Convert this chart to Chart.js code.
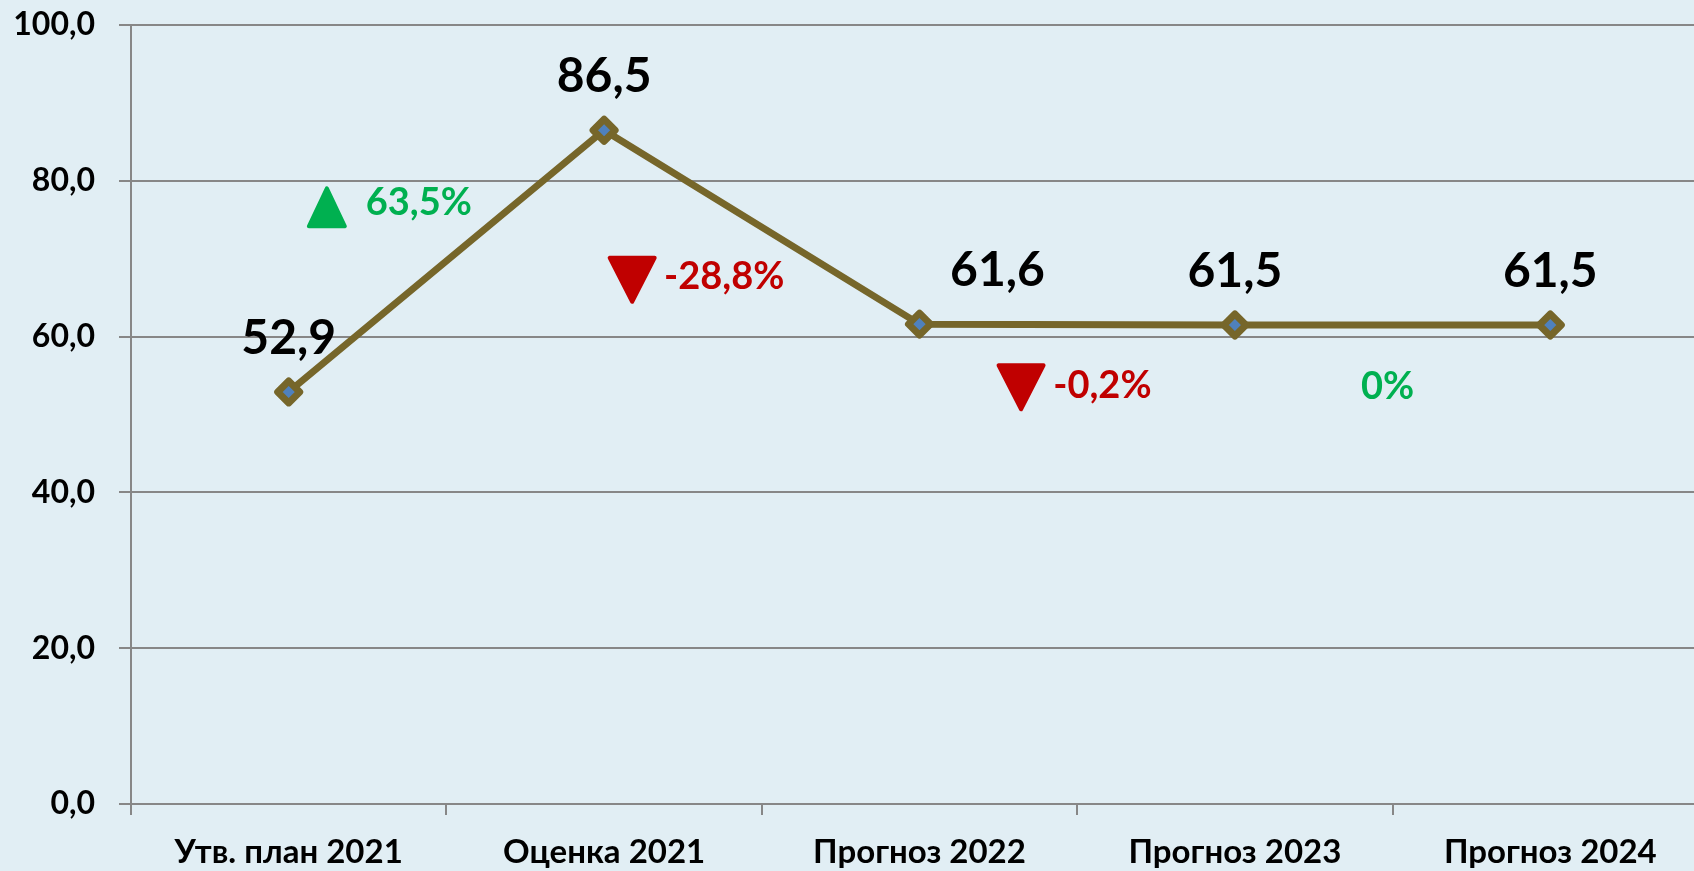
<!DOCTYPE html>
<html>
<head>
<meta charset="utf-8">
<script src="https://cdn.jsdelivr.net/npm/chart.js@4"></script>
<style>
  html, body { margin: 0; padding: 0; background: #E1EEF4; overflow: hidden; width: 1694px; height: 871px; }
  #c { position: absolute; left: 0; top: 0; }
</style>
</head>
<body>
<canvas id="c" width="1708" height="871"></canvas>
<script>
// ---- data ----
const categories = ['Утв. план 2021', 'Оценка 2021', 'Прогноз 2022', 'Прогноз 2023', 'Прогноз 2024'];
const values = [52.9, 86.5, 61.6, 61.5, 61.5];
const yTickValues = [0, 20, 40, 60, 80, 100];
const changeLabels = ['63,5%', '-28,8%', '-0,2%', '0%'];
const changeDirections = ['up', 'down', 'down', 'none'];

// ---- layout of annotations (category index, value units) ----
const changeTriangleAnchors = [[0.121, 76.6], [1.089, 67.3], [2.322, 53.5], null];
const changeTextAnchors = [[0.244, 75.6], [1.19, 66.1], [2.424, 52.1], [3.400, 52.0]];
const valueLabelDx = [0, 0, 78, 0, 0];

const FONT = 'Lato, "Noto Sans", sans-serif';
const OLIVE = '#76662A';
const GRID = '#878787';
const GREEN = '#00B050';
const RED = '#C00000';
const fmt = v => v.toFixed(1).replace('.', ',');

const bgPlugin = {
  id: 'bg',
  beforeDraw(chart) {
    const ctx = chart.ctx;
    ctx.save();
    ctx.fillStyle = '#E1EEF4';
    ctx.fillRect(0, 0, chart.width, chart.height);
    ctx.restore();
  },
  beforeDatasetsDraw(chart) { chart.ctx.lineJoin = 'round'; }
};

const labelPlugin = {
  id: 'labels',
  afterDatasetsDraw(chart) {
    const ctx = chart.ctx;
    const xs = chart.scales.x, ys = chart.scales.y;
    ctx.save();
    // value labels
    ctx.font = 'bold 48px ' + FONT;
    ctx.fillStyle = '#000';
    ctx.textAlign = 'center';
    ctx.textBaseline = 'alphabetic';
    values.forEach((v, i) => {
      const x = xs.getPixelForValue(i) + valueLabelDx[i];
      const y = ys.getPixelForValue(v) - 38;
      ctx.fillText(fmt(v), x, y);
    });
    // change annotations
    changeLabels.forEach((t, i) => {
      const dir = changeDirections[i];
      const color = (dir === 'down') ? RED : GREEN;
      const tri = changeTriangleAnchors[i];
      if (tri && dir !== 'none') {
        const cx = xs.getPixelForValue(tri[0]);
        const cy = ys.getPixelForValue(tri[1]);
        const w = dir === 'up' ? 36 : 45;
        const h = dir === 'up' ? 38 : 44;
        ctx.beginPath();
        if (dir === 'up') {
          ctx.moveTo(cx, cy - h / 2);
          ctx.lineTo(cx + w / 2, cy + h / 2);
          ctx.lineTo(cx - w / 2, cy + h / 2);
        } else {
          ctx.moveTo(cx - w / 2, cy - h / 2);
          ctx.lineTo(cx + w / 2, cy - h / 2);
          ctx.lineTo(cx, cy + h / 2);
        }
        ctx.closePath();
        ctx.fillStyle = color;
        ctx.strokeStyle = color;
        ctx.lineWidth = 4;
        ctx.lineJoin = 'round';
        ctx.fill();
        ctx.stroke();
      }
      const ta = changeTextAnchors[i];
      ctx.font = 'bold 38px ' + FONT;
      ctx.fillStyle = color;
      ctx.textAlign = 'left';
      ctx.textBaseline = 'alphabetic';
      ctx.fillText(t, xs.getPixelForValue(ta[0]), ys.getPixelForValue(ta[1]));
    });
    ctx.restore();
  }
};

new Chart(document.getElementById('c'), {
  type: 'line',
  data: {
    labels: categories,
    datasets: [{
      data: values,
      borderColor: OLIVE,
      borderWidth: 7,
      borderJoinStyle: 'round',
      pointStyle: 'rectRot',
      pointRadius: 11,
      pointBorderWidth: 7,
      pointBackgroundColor: '#4F81BD',
      pointBorderColor: OLIVE,
      tension: 0,
      clip: false
    }]
  },
  options: {
    responsive: false,
    animation: false,
    events: [],
    layout: { autoPadding: false, padding: { top: 25, left: 0, right: 0, bottom: 0 } },
    plugins: { legend: { display: false }, tooltip: { enabled: false } },
    scales: {
      x: {
        type: 'category',
        offset: true,
        grid: { offset: true, drawOnChartArea: false, drawTicks: true, tickLength: 11, color: GRID, lineWidth: 2 },
        border: { color: GRID, width: 2 },
        ticks: { color: '#000', font: { family: FONT, size: 33, weight: 'bold' }, padding: 18, maxRotation: 0 },
        afterFit(scale) { scale.height = 67; scale.paddingLeft = 0; scale.paddingRight = 0; }
      },
      y: {
        min: 0, max: 100,
        afterBuildTicks(scale) { scale.ticks = yTickValues.map(v => ({ value: v })); },
        ticks: { color: '#000', font: { family: FONT, size: 32, weight: 'bold' }, padding: 24, callback: v => fmt(v) },
        grid: { color: GRID, lineWidth: 2, tickLength: 12, drawTicks: true },
        border: { color: GRID, width: 2 },
        afterFit(scale) { scale.width = 131; scale.paddingTop = 0; scale.paddingBottom = 0; }
      }
    }
  },
  plugins: [bgPlugin, labelPlugin]
});
</script>
</body>
</html>
